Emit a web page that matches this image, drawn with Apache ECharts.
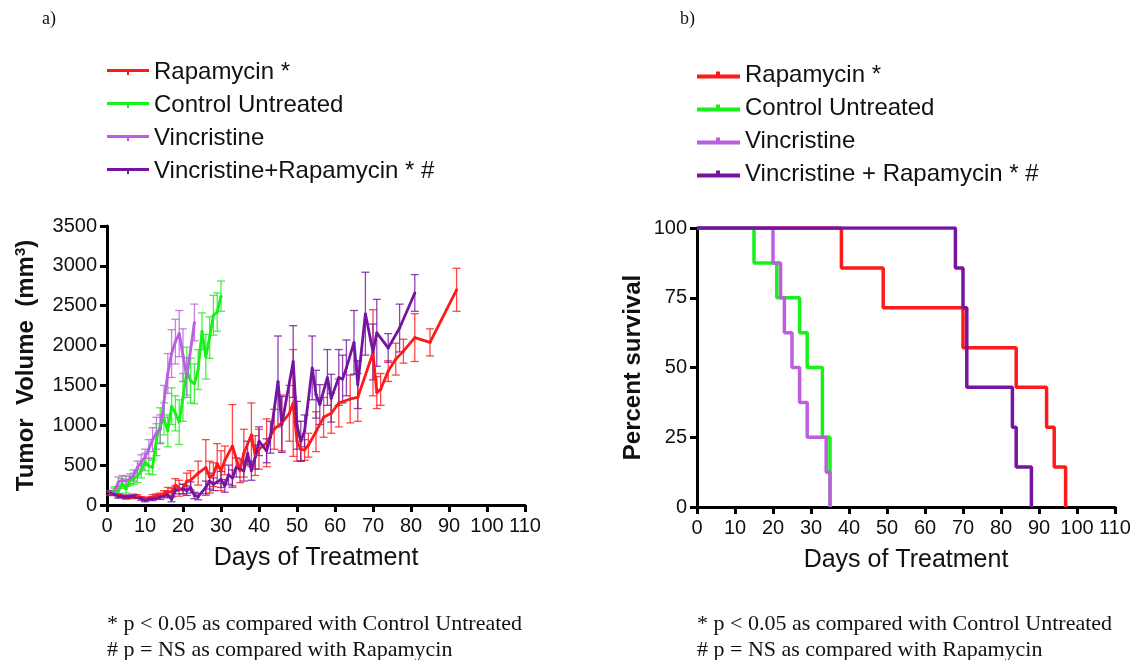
<!DOCTYPE html>
<html>
<head>
<meta charset="utf-8">
<script src="https://cdn.jsdelivr.net/npm/echarts@6/dist/echarts.min.js"></script>
<style>
  html, body { margin: 0; padding: 0; background: #fff; }
  #chart { width: 1138px; height: 660px; }
</style>
</head>
<body>
<div id="chart"></div>
<script>
// a) tumor volume, mean and error per measurement day
var ctrlDays = [1,2,3,4,5,6,7,8,9,10,11,12,13,14,15,16,17,18,19,20,21,22,23,24,25,26,27,28,29,30];
var ctrlVol = [150,190,170,270,200,300,330,360,430,540,490,470,820,1000,1080,930,1240,1150,1040,1350,1680,1560,1520,1700,2180,1860,2100,2380,2420,2620];
var ctrlErr = [30,40,40,60,50,60,70,80,90,110,100,90,200,220,200,200,230,220,280,300,300,280,250,250,230,280,260,250,240,190];

var vincDays = [1,2,3,4,5,6,7,8,9,10,11,12,13,14,15,16,17,18,19,20,21,23];
var vincVol = [150,170,290,310,300,330,370,470,540,600,700,820,900,950,1300,1650,1900,2050,2150,1880,1600,2290];
var vincErr = [30,40,60,60,60,60,70,80,90,100,120,150,200,180,200,250,300,280,290,330,250,230];

var rapaDays = [1,3,5,7,8,10,12,13,14,15,16,17,18,19,20,21,22,24,26,27,28,29,30,31,33,35,36,38,39,40,42,44,46,48,49,50,51,52,53,55,57,59,61,64,66,70,71,72,74,76,78,81,85,92];
var rapaVol = [140,120,100,100,110,80,100,110,120,140,170,160,250,210,200,300,310,400,470,350,380,520,430,560,740,430,650,880,620,700,780,950,1030,1150,1280,800,700,690,750,920,1100,1150,1280,1330,1350,1910,1410,1450,1680,1830,1930,2100,2040,2700];
var rapaErr = [20,20,20,20,20,20,30,30,30,40,50,50,80,100,60,100,120,150,350,200,150,250,250,180,520,150,300,400,250,250,300,250,350,350,670,250,150,130,150,250,250,250,300,300,300,540,200,200,130,200,150,300,170,270];

var comboDays = [1,3,5,7,9,10,12,14,16,17,18,20,21,22,23,24,26,27,28,30,31,32,33,34,36,37,38,39,40,42,43,45,46,49,50,51,52,54,55,56,58,59,61,62,63,65,66,68,70,71,74,77,81];
var comboVol = [150,110,100,110,80,60,80,100,130,70,190,200,180,220,120,105,220,300,260,320,240,380,340,470,430,650,430,600,800,680,850,1550,1010,1800,1000,800,930,1720,1390,1260,1600,1340,1600,1580,1720,2040,1510,2400,1920,2160,1970,2220,2660];
var comboErr = [30,25,25,25,20,20,25,30,40,30,50,60,60,70,40,40,80,100,80,100,80,120,100,120,130,150,120,150,180,150,200,570,350,450,300,250,200,400,300,250,350,300,350,300,350,400,300,520,350,420,180,300,230];

// b) Kaplan-Meier steps: [day, percent surviving]
var rapaSurv = [[0,100],[38,85.7],[49,71.4],[70,57.1],[84,42.9],[92,28.6],[94,14.3],[97,0]];
var ctrlSurv = [[0,100],[15,87.5],[21,75],[27,62.5],[29,50],[33,25],[35,0]];
var vincSurv = [[0,100],[20,87.5],[22,75],[23,62.5],[25,50],[27,37.5],[29,25],[34,12.5],[35,0]];
var comboSurv = [[0,100],[68,85.7],[70,71.4],[71,42.9],[83,28.6],[84,14.3],[88,0]];

var volTicks = [0, 3500, 500];
var dayTicks = [0, 110, 10];
var survTicks = [0, 100, 25];

var RED = "#ff1a1a", GREEN = "#19f019", LILAC = "#bb5fe0", PURPLE = "#7414a0";
var SANS = "Liberation Sans", SERIF = "Liberation Serif";
var NOTES = "* p < 0.05 as compared with Control Untreated\n# p = NS as compared with Rapamycin";

function errSeries(color, days, vals, errs) {
  return {
    type: "custom",
    xAxisIndex: 0,
    yAxisIndex: 0,
    silent: true,
    data: days.map(function(d, i) { return [d, vals[i] - errs[i], vals[i] + errs[i]]; }),
    encode: { x: 0, y: [1, 2] },
    renderItem: function(params, api) {
      var hi = api.coord([api.value(0), api.value(2)]);
      var lo = api.coord([api.value(0), api.value(1)]);
      var w = 4;
      var st = { stroke: color, lineWidth: 1.3, opacity: 0.8 };
      return {
        type: "group",
        children: [
          { type: "line", shape: { x1: hi[0], y1: hi[1], x2: lo[0], y2: lo[1] }, style: st },
          { type: "line", shape: { x1: hi[0] - w, y1: hi[1], x2: hi[0] + w, y2: hi[1] }, style: st },
          { type: "line", shape: { x1: lo[0] - w, y1: lo[1], x2: lo[0] + w, y2: lo[1] }, style: st }
        ]
      };
    }
  };
}

function volSeries(name, color, days, vals) {
  return {
    name: name,
    type: "line",
    xAxisIndex: 0,
    yAxisIndex: 0,
    color: color,
    symbol: "circle",
    symbolSize: 3,
    lineStyle: { width: 2.8 },
    data: days.map(function(d, i) { return [d, vals[i]]; })
  };
}

function survSeries(name, color, pts) {
  return {
    name: name,
    type: "line",
    xAxisIndex: 1,
    yAxisIndex: 1,
    color: color,
    step: "end",
    symbol: "none",
    lineStyle: { width: 3.5 },
    data: pts
  };
}

function xAxisOf(grid) {
  return {
    type: "value",
    gridIndex: grid,
    min: dayTicks[0], max: dayTicks[1], interval: dayTicks[2],
    name: "Days of Treatment",
    nameLocation: "middle",
    nameGap: 41,
    nameTextStyle: { fontFamily: SANS, fontSize: 25, color: "#111" },
    splitLine: { show: false },
    axisLine: { lineStyle: { color: "#000", width: 3 } },
    axisTick: { length: 7, lineStyle: { color: "#000", width: 3 } },
    axisLabel: { fontFamily: SANS, fontSize: 20, color: "#111", margin: 11 }
  };
}

function yAxisOf(grid, ticks, name, gap) {
  return {
    type: "value",
    gridIndex: grid,
    min: ticks[0], max: ticks[1], interval: ticks[2],
    name: name,
    nameLocation: "middle",
    nameGap: gap,
    nameTextStyle: {
      fontFamily: SANS, fontSize: 24, fontWeight: "bold", color: "#111",
      rich: {
        a: { fontFamily: SANS, fontSize: 24, fontWeight: "bold", color: "#111" },
        s: { fontFamily: SANS, fontSize: 15, fontWeight: "bold", color: "#111", verticalAlign: "top", padding: [0, 0, 12, 0] }
      }
    },
    splitLine: { show: false },
    axisLine: { lineStyle: { color: "#000", width: 3 } },
    axisTick: { length: 7, lineStyle: { color: "#000", width: 3 } },
    axisLabel: {
      fontFamily: SANS, fontSize: 20, color: "#111", margin: 10,
      formatter: function(v) { return String(v); }
    }
  };
}

var chart = echarts.init(document.getElementById("chart"));
var option = {
  animation: false,
  backgroundColor: "#fff",
  grid: [
    { left: 107, top: 226, width: 418, height: 279 },
    { left: 697, top: 228, width: 418, height: 279 }
  ],
  xAxis: [xAxisOf(0), xAxisOf(1)],
  yAxis: [
    yAxisOf(0, volTicks, "{a|Tumor  Volume  (mm}{s|3}{a|)}", 67),
    yAxisOf(1, survTicks, "Percent survival", 52)
  ],
  legend: [
    {
      left: 107, top: 60, orient: "vertical", padding: 0, itemGap: 9,
      itemWidth: 42, itemHeight: 7,
      icon: "path://M0,0H42V3H0Z M20,3H22V6H20Z",
      itemStyle: { borderWidth: 0 },
      textStyle: { fontFamily: SANS, fontSize: 24, lineHeight: 24, color: "#111" },
      selectedMode: false,
      data: ["Rapamycin *", "Control Untreated", "Vincristine", "Vincristine+Rapamycin * #"]
    },
    {
      left: 697, top: 63, orient: "vertical", padding: 0, itemGap: 9,
      itemWidth: 43, itemHeight: 8,
      icon: "path://M0,3H43V7H0Z M19,0H23V3H19Z",
      itemStyle: { borderWidth: 0 },
      textStyle: { fontFamily: SANS, fontSize: 24, lineHeight: 24, color: "#111" },
      selectedMode: false,
      data: ["Rapamycin *", "Control Untreated", "Vincristine", "Vincristine + Rapamycin * #"]
    }
  ],
  graphic: [
    { type: "text", left: 42, top: 10, style: { text: "a)", font: "18px " + SERIF, fill: "#111" } },
    { type: "text", left: 680, top: 10, style: { text: "b)", font: "18px " + SERIF, fill: "#111" } },
    { type: "text", left: 107, top: 611, style: { text: NOTES, font: "22px " + SERIF, lineHeight: 26, fill: "#111" } },
    { type: "text", left: 697, top: 611, style: { text: NOTES, font: "22px " + SERIF, lineHeight: 26, fill: "#111" } }
  ],
  series: [
    errSeries(RED, rapaDays, rapaVol, rapaErr),
    volSeries("Rapamycin *", RED, rapaDays, rapaVol),
    errSeries(GREEN, ctrlDays, ctrlVol, ctrlErr),
    volSeries("Control Untreated", GREEN, ctrlDays, ctrlVol),
    errSeries(LILAC, vincDays, vincVol, vincErr),
    volSeries("Vincristine", LILAC, vincDays, vincVol),
    errSeries(PURPLE, comboDays, comboVol, comboErr),
    volSeries("Vincristine+Rapamycin * #", PURPLE, comboDays, comboVol),
    survSeries("Rapamycin *", RED, rapaSurv),
    survSeries("Control Untreated", GREEN, ctrlSurv),
    survSeries("Vincristine", LILAC, vincSurv),
    survSeries("Vincristine + Rapamycin * #", PURPLE, comboSurv)
  ]
};
chart.setOption(option);
</script>
</body>
</html>
